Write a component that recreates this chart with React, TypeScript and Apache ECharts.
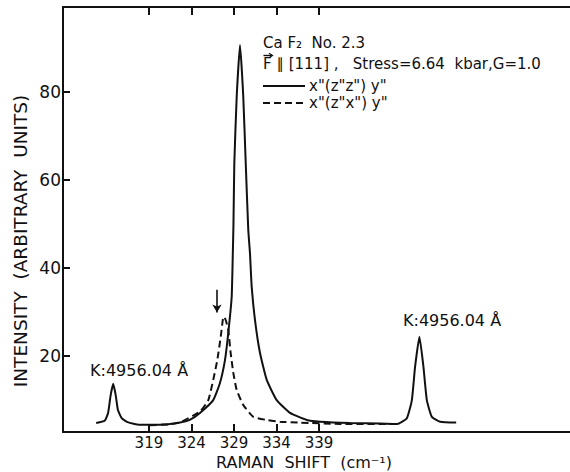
import React, { useEffect, useRef } from "react";
import * as echarts from "echarts";

// Raman shift ticks (cm^-1) and intensity ticks
const xTicks = [319, 324, 329, 334, 339];
const yTicks = [20, 40, 60, 80];

// Solid curve: x"(z"z") y"
const solidShift = [
  312.8, 313.8, 314.2, 314.5, 314.8, 315.1, 315.35, 315.8, 316.5, 317.9, 320.3,
  322.65, 323.8, 325.0, 326.56, 327.35, 327.94, 328.33, 328.73, 328.86, 328.94,
  329.04, 329.32, 329.71, 330.09, 330.38, 330.68, 330.88, 331.08, 331.47, 332.06,
  332.85, 334.02, 335.59, 337.55, 339.12, 342.65, 346.18, 348.18, 349.32, 349.91,
  350.29, 350.8, 351.27, 351.67, 352.26, 353.24, 355.12,
];
const solidIntensity = [
  4.7, 5.2, 7.0, 11.0, 13.6, 11.0, 7.7, 5.8, 4.9, 4.3, 4.3,
  4.8, 5.4, 7.0, 9.9, 13.8, 19.0, 25.2, 33.4, 43.0, 50.0,
  63.8, 78.9, 90.6, 78.9, 63.8, 48.6, 43.3, 35.7, 28.1, 20.6,
  14.5, 9.9, 7.0, 5.4, 5.0, 4.7, 4.6, 4.5, 5.8, 9.9,
  17.5, 24.3, 17.5, 9.9, 6.1, 5.0, 4.8,
];

// Dashed curve: x"(z"x") y"
const dashedShift = [
  319.12, 321.47, 322.65, 325.0, 325.98, 326.56, 327.04, 327.44, 327.7, 327.82,
  328.05, 328.33, 328.61, 328.92, 329.32, 330.09, 331.27, 332.85, 334.41, 336.76,
  341.47, 347.94,
];
const dashedIntensity = [
  4.2, 4.4, 4.8, 7.3, 9.9, 14.5, 19.0, 24.3, 28.3, 28.9,
  28.0, 25.8, 20.6, 16.1, 12.2, 8.8, 6.1, 5.4, 5.0, 4.8,
  4.5, 4.5,
];

const legendLabels = ['x"(z"z") y"', 'x"(z"x") y"'];
const sampleLine = "Ca F₂  No. 2.3";
const conditionLine = "F ∥ [111] ,   Stress=6.64  kbar,G=1.0";
const laserLabel = "K:4956.04 Å";
const xName = "RAMAN  SHIFT  (cm⁻¹)";
const yName = "INTENSITY  (ARBITRARY  UNITS)";

const FONT = "DejaVu Sans";
const INK = "#111";

export default function App() {
  const ref = useRef<HTMLDivElement>(null);
  useEffect(() => {
    if (!ref.current) return;
    const chart = echarts.init(ref.current, undefined, { renderer: "svg" });
    const solidData = solidShift.map((x, i) => [x, solidIntensity[i]]);
    const dashedData = dashedShift.map((x, i) => [x, dashedIntensity[i]]);
    const textStyle = (size: number) => ({
      fill: INK,
      fontFamily: FONT,
      fontSize: size,
      lineHeight: size,
    });
    chart.setOption({
      animation: false,
      backgroundColor: "#fff",
      grid: { left: 63, right: 0, top: 7, bottom: 40, outerBoundsMode: "none" },
      xAxis: [
        {
          type: "value",
          min: 308.9,
          max: 368.5,
          position: "bottom",
          axisLine: { onZero: false, lineStyle: { color: INK, width: 2 } },
          axisTick: {
            inside: true,
            length: 8,
            customValues: xTicks,
            lineStyle: { color: INK, width: 2 },
          },
          axisLabel: {
            customValues: xTicks,
            color: INK,
            fontFamily: FONT,
            fontSize: 15,
            margin: 3,
          },
          splitLine: { show: false },
        },
        {
          type: "value",
          min: 308.9,
          max: 368.5,
          position: "top",
          axisLine: { onZero: false, lineStyle: { color: INK, width: 2 } },
          axisTick: {
            inside: true,
            length: 8,
            customValues: xTicks,
            lineStyle: { color: INK, width: 2 },
          },
          axisLabel: { show: false },
          splitLine: { show: false },
        },
      ],
      yAxis: {
        type: "value",
        min: 2.66,
        max: 99.25,
        axisLine: { show: true, onZero: false, lineStyle: { color: INK, width: 2 } },
        axisTick: {
          show: true,
          inside: true,
          length: 7,
          customValues: yTicks,
          lineStyle: { color: INK, width: 2 },
        },
        axisLabel: {
          customValues: yTicks,
          color: INK,
          fontFamily: FONT,
          fontSize: 17,
          margin: 2,
        },
        splitLine: { show: false },
      },
      series: [
        {
          type: "line",
          data: solidData,
          showSymbol: false,
          smooth: 0.15,
          lineStyle: { color: INK, width: 2 },
          silent: true,
        },
        {
          type: "line",
          data: dashedData,
          showSymbol: false,
          smooth: 0.15,
          lineStyle: { color: INK, width: 2, type: [7, 4] },
          silent: true,
          markLine: {
            silent: true,
            symbol: ["none", "arrow"],
            symbolSize: [7, 8],
            label: { show: false },
            lineStyle: { color: INK, width: 1.6, type: "solid" },
            data: [[{ coord: [327.0, 35.0] }, { coord: [327.0, 29.8] }]],
          },
        },
      ],
      graphic: [
        {
          type: "text",
          x: 263,
          y: 43,
          style: { ...textStyle(15), text: sampleLine, verticalAlign: "middle" },
        },
        {
          type: "text",
          x: 263,
          y: 64,
          style: { ...textStyle(15), text: conditionLine, verticalAlign: "middle" },
        },
        // vector arrow over the F
        {
          type: "line",
          shape: { x1: 263.5, y1: 55.5, x2: 272, y2: 55.5 },
          style: { stroke: INK, lineWidth: 1.4 },
        },
        {
          type: "polyline",
          shape: { points: [[269, 53.3], [272.5, 55.5], [269, 57.7]] },
          style: { stroke: INK, lineWidth: 1.2, fill: "none" },
        },
        {
          type: "line",
          shape: { x1: 263, y1: 86, x2: 305, y2: 86 },
          style: { stroke: INK, lineWidth: 2 },
        },
        {
          type: "text",
          x: 309,
          y: 86,
          style: { ...textStyle(15), text: legendLabels[0], verticalAlign: "middle" },
        },
        {
          type: "line",
          shape: { x1: 263, y1: 103, x2: 305, y2: 103 },
          style: { stroke: INK, lineWidth: 2, lineDash: [7, 4] },
        },
        {
          type: "text",
          x: 309,
          y: 103,
          style: { ...textStyle(15), text: legendLabels[1], verticalAlign: "middle" },
        },
        {
          type: "text",
          x: 90,
          y: 370,
          style: { ...textStyle(16), text: laserLabel, verticalAlign: "middle" },
        },
        {
          type: "text",
          x: 403,
          y: 320,
          style: { ...textStyle(16), text: laserLabel, verticalAlign: "middle" },
        },
        {
          type: "text",
          x: 304,
          y: 462,
          style: {
            ...textStyle(16),
            text: xName,
            align: "center",
            verticalAlign: "middle",
          },
        },
        {
          type: "text",
          x: 20,
          y: 241,
          rotation: Math.PI / 2,
          style: {
            ...textStyle(18.5),
            text: yName,
            align: "center",
            verticalAlign: "middle",
          },
        },
      ],
    });
    return () => chart.dispose();
  }, []);
  return <div ref={ref} style={{ width: 570, height: 472, position: "absolute", left: 0, top: 0 }} />;
}
